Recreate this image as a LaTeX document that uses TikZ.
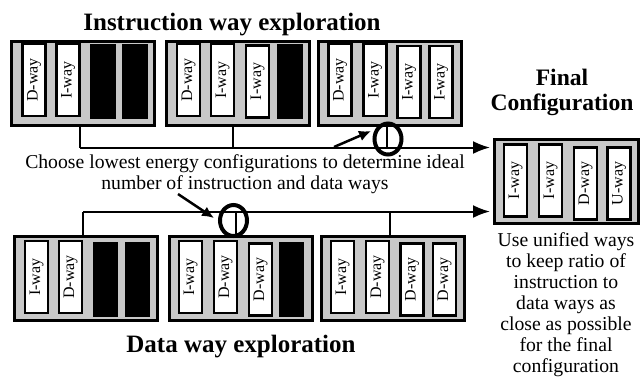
\documentclass[tikz,border=0pt]{standalone}
\usepackage{fontspec}
\setmainfont{Liberation Serif}
\usetikzlibrary{arrows.meta,shapes.geometric}
\definecolor{panel}{RGB}{200,200,200}
\tikzset{
  cachebox/.style={draw=black, fill=panel, line width=3pt, rectangle,
    minimum width=143pt, minimum height=84pt, inner sep=0pt},
  way/.style={draw=black, fill=white, line width=2.5pt, rotate=90,
    minimum width=72pt, minimum height=23pt, inner sep=0pt,
    font=\fontsize{16}{16}\selectfont},
  offway/.style={way, fill=black},
  bus/.style={draw=black, line width=2pt},
  busarrow/.style={bus, -{Latex[length=17pt,width=13pt]}},
  pointer/.style={draw=black, line width=2.5pt, -{Latex[length=12pt,width=11pt]}},
  pick/.style={ellipse, draw=black, line width=4pt, inner sep=0pt,
    minimum width=27pt, minimum height=31pt},
  heading/.style={font=\fontsize{25}{26}\selectfont\bfseries, inner sep=0pt, anchor=base},
  body/.style={font=\fontsize{19.7}{21}\selectfont, inner sep=0pt, anchor=base, align=center},
}
\begin{document}
\begin{tikzpicture}[x=1pt,y=-1pt]
\useasboundingbox (0,0) rectangle (641,376);

% ---- instruction way exploration (top row) ----
\node[heading] (ttitle) at (232,30) {Instruction way exploration};

\node[cachebox] (t1) at (83,83.5) {};
\node[way]    (t1a) at (34,80)   {D-way};
\node[way]    (t1b) at (68,80)   {I-way};
\node[offway] (t1c) at (103,81.5) {};
\node[offway] (t1d) at (135,81.5) {};

\node[cachebox] (t2) at (238,83.5) {};
\node[way]    (t2a) at (188.5,80) {D-way};
\node[way]    (t2b) at (222.5,80) {I-way};
\node[way]    (t2c) at (257.5,81.5) {I-way};
\node[offway] (t2d) at (290,81.5) {};

\node[cachebox] (t3) at (390,83.5) {};
\node[way] (t3a) at (340,80)   {D-way};
\node[way] (t3b) at (375,80)   {I-way};
\node[way] (t3c) at (409,82)   {I-way};
\node[way] (t3d) at (441,82)   {I-way};

% ---- data way exploration (bottom row) ----
\node[cachebox] (b1) at (85.5,278) {};
\node[way]    (b1a) at (36.5,277)  {I-way};
\node[way]    (b1b) at (70.5,277)  {D-way};
\node[offway] (b1c) at (105.5,279.5) {};
\node[offway] (b1d) at (137.5,279.5) {};

\node[cachebox] (b2) at (240.5,278) {};
\node[way]    (b2a) at (190.5,277)  {I-way};
\node[way]    (b2b) at (225.5,277)  {D-way};
\node[way]    (b2c) at (260.5,279.5) {D-way};
\node[offway] (b2d) at (291.5,279.5) {};

\node[cachebox] (b3) at (392.5,278) {};
\node[way] (b3a) at (342.5,277)  {I-way};
\node[way] (b3b) at (377.5,277)  {D-way};
\node[way] (b3c) at (412,279.5)  {D-way};
\node[way] (b3d) at (444.5,279.5) {D-way};

\node[heading] (btitle) at (241,352) {Data way exploration};

% ---- final configuration ----
\node[heading, align=center, font=\fontsize{23.6}{25}\selectfont\bfseries]
  (ftitle) at (562,110) {Final\\Configuration};
\node[cachebox, minimum width=144pt] (fin) at (566.5,181.5) {};
\node[way] (fa) at (515.5,180.5) {I-way};
\node[way] (fb) at (550.5,180.5) {I-way};
\node[way] (fc) at (585.5,183.5) {D-way};
\node[way] (fd) at (619,183.5)   {U-way};

% ---- buses collecting each row ----
\coordinate (tbus) at (80,147.5);
\draw[bus] (t1.south -| tbus) -- (tbus);
\draw[bus] ([xshift=-5pt]t2.south) -- ([xshift=-5pt]t2.south |- tbus);
\draw[bus] ([xshift=-3pt]t3.south) -- ([xshift=-3pt]t3.south |- tbus);
\draw[busarrow] (tbus) -- ([xshift=-3pt]fin.west |- tbus);

\coordinate (bbus) at (83,211.5);
\draw[bus] (b1.north -| bbus) -- (bbus);
\draw[bus] ([xshift=-4.5pt]b2.north) -- ([xshift=-4.5pt]b2.north |- bbus);
\draw[bus] ([xshift=-2.5pt]b3.north) -- ([xshift=-2.5pt]b3.north |- bbus);
\draw[busarrow] (bbus) -- ([xshift=-3pt]fin.west |- bbus);

% ---- selected configurations ----
\node[pick] (sel1) at (388,139) {};
\node[pick] (sel2) at (233.5,220.5) {};

% ---- explanation text and pointers ----
\node[body] (choose) at (245,189)
  {Choose lowest energy configurations to determine ideal\\number of instruction and data ways};
\coordinate (p1s) at (334,147);
\coordinate (p1e) at (371,131);
\draw[pointer] (p1s) -- (p1e);
\coordinate (p2s) at (178,194);
\coordinate (p2e) at (214,218);
\draw[pointer] (p2s) -- (p2e);

\node[body] (note) at (566,372)
  {Use unified ways\\to keep ratio of\\instruction to\\data ways as\\close as possible\\for the final\\configuration};
\end{tikzpicture}
\end{document}
